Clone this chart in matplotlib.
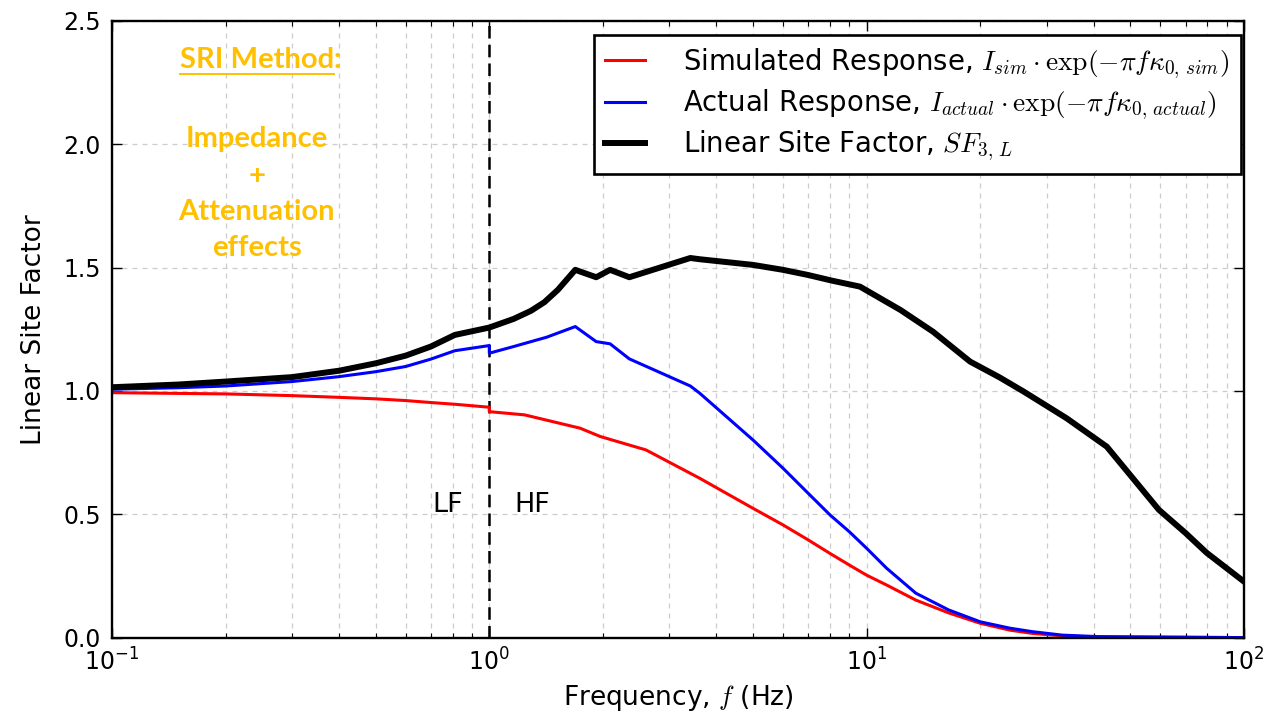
import matplotlib
matplotlib.use('Agg')
import matplotlib.pyplot as plt
from matplotlib.lines import Line2D
from matplotlib.ticker import LogLocator, MultipleLocator, FormatStrFormatter

plt.rcParams['font.family'] = 'DejaVu Sans'
plt.rcParams['mathtext.fontset'] = 'cm'

# simulated response (impedance + attenuation), split at 1 Hz
freq_sim = [0.1, 0.15, 0.2, 0.3, 0.4, 0.5, 0.6, 0.7, 0.81, 1.0, 1.0, 1.24, 1.74, 1.97, 2.6,
            3.61, 5.0, 6.0, 7.0, 8.0, 9.0, 10.0, 11.3, 13.5, 16.5, 20.0, 24.0, 27.5, 33.0, 41.0, 100.0]
sim_resp = [0.993, 0.990, 0.988, 0.981, 0.974, 0.968, 0.961, 0.953, 0.946, 0.934, 0.916, 0.903, 0.849, 0.815, 0.761,
            0.646, 0.524, 0.457, 0.396, 0.341, 0.294, 0.253, 0.213, 0.152, 0.100, 0.058, 0.030, 0.017, 0.007, 0.002, 0.0]

# actual (recorded) response
freq_act = [0.1, 0.15, 0.2, 0.3, 0.4, 0.5, 0.6, 0.7, 0.81, 1.0, 1.0, 1.16, 1.42, 1.69, 1.92, 2.09, 2.35,
            3.41, 3.61, 5.0, 6.0, 7.0, 8.0, 9.0, 10.0, 11.3, 13.5, 16.5, 20.0, 24.0, 27.5, 33.0, 41.0, 100.0]
act_resp = [1.007, 1.013, 1.020, 1.038, 1.058, 1.078, 1.099, 1.129, 1.163, 1.184, 1.153, 1.180, 1.218, 1.261, 1.200, 1.191, 1.130,
            1.020, 0.991, 0.801, 0.687, 0.585, 0.497, 0.429, 0.362, 0.281, 0.180, 0.112, 0.064, 0.038, 0.024, 0.010, 0.004, 0.0]

# linear site factor SF_3,L
freq_sf = [0.1, 0.15, 0.2, 0.3, 0.4, 0.5, 0.6, 0.7, 0.81, 1.0, 1.16, 1.29, 1.40, 1.52, 1.69, 1.92, 2.09, 2.35, 3.41,
           3.61, 5.0, 6.0, 7.0, 8.1, 9.6, 12.3, 15.0, 18.8, 22.5, 26.1, 33.9, 43.3, 59.5, 70.0, 79.6, 100.0]
site_factor = [1.015, 1.026, 1.038, 1.056, 1.082, 1.112, 1.143, 1.180, 1.227, 1.257, 1.292, 1.325, 1.360, 1.410, 1.491,
               1.461, 1.491, 1.461, 1.539, 1.534, 1.511, 1.491, 1.470, 1.447, 1.423, 1.328, 1.240, 1.119, 1.055, 0.997,
               0.889, 0.774, 0.518, 0.424, 0.344, 0.227]

ORANGE = '#FFC000'

fig = plt.figure(figsize=(12.81, 7.18), dpi=100)
ax = fig.add_axes([0.0874, 0.112, 0.8837, 0.8588])

ax.semilogx(freq_sim, sim_resp, color='red', lw=2.2,
            label=r'Simulated Response, $I_{sim}\cdot\exp(-\pi f\kappa_{0,\,sim})$')
ax.semilogx(freq_act, act_resp, color='blue', lw=2.2,
            label=r'Actual Response, $I_{actual}\cdot\exp(-\pi f\kappa_{0,\,actual})$')
ax.semilogx(freq_sf, site_factor, color='black', lw=4.3,
            label=r'Linear Site Factor, $SF_{3,\,L}$')

# LF / HF split
ax.axvline(1.0, color='black', lw=1.8, ls=(0, (5, 2.5)), zorder=1)

ax.set_xlim(0.1, 100)
ax.set_ylim(0, 2.5)
ax.xaxis.set_major_locator(LogLocator(base=10))
ax.xaxis.set_minor_locator(LogLocator(base=10, subs=range(2, 10)))
ax.yaxis.set_major_locator(MultipleLocator(0.5))
ax.yaxis.set_major_formatter(FormatStrFormatter('%.1f'))

ax.grid(True, which='major', color='#cccccc', ls=(0, (4, 4)), lw=0.9)
ax.grid(True, which='minor', axis='x', color='#cccccc', ls=(0, (4, 4)), lw=0.9)
ax.set_axisbelow(True)

ax.tick_params(which='both', direction='in', top=True, right=True, labelsize=17, pad=8)
ax.tick_params(which='major', length=7, width=1)
ax.tick_params(which='minor', length=3.5, width=0.8)
for sp in ax.spines.values():
    sp.set_linewidth(1.7)

ax.set_xlabel(r'Frequency, $f$ (Hz)', fontsize=19, labelpad=5)
ax.set_ylabel('Linear Site Factor', fontsize=19, labelpad=12)

leg = ax.legend(loc='upper right', bbox_to_anchor=(0.997, 0.977), borderaxespad=0,
                fontsize=19.8, fancybox=False, handlelength=1.45, handletextpad=1.4,
                labelspacing=0.25, borderpad=0.4)
leg.get_frame().set_edgecolor('black')
leg.get_frame().set_linewidth(1.9)
leg.get_frame().set_alpha(1)

ax.text(0.778, 0.538, 'LF', fontsize=19.5, ha='center', va='center', transform=ax.transData)
ax.text(1.30, 0.538, 'HF', fontsize=19.5, ha='center', va='center', transform=ax.transData)

# method annotation
title = ax.text(0.128, 0.937, 'SRI Method', color=ORANGE, fontsize=21, fontweight='bold',
                family='Lato', ha='center', va='center', transform=ax.transAxes)
ax.text(0.128, 0.72, 'Impedance\n+\nAttenuation\neffects', color=ORANGE, fontsize=21,
        fontweight='bold', family='Lato', ha='center', va='center', linespacing=1.48,
        transform=ax.transAxes)

fig.canvas.draw()
bb = title.get_window_extent().transformed(ax.transAxes.inverted())
ax.text(bb.x1, 0.937, ':', color=ORANGE, fontsize=21, fontweight='bold', family='Lato',
        ha='left', va='center', transform=ax.transAxes)
ax.add_line(Line2D([bb.x0, bb.x1], [bb.y0 - 0.002, bb.y0 - 0.002], color=ORANGE, lw=1.4,
                   transform=ax.transAxes, clip_on=False))

fig.savefig('out.png', dpi=100)
